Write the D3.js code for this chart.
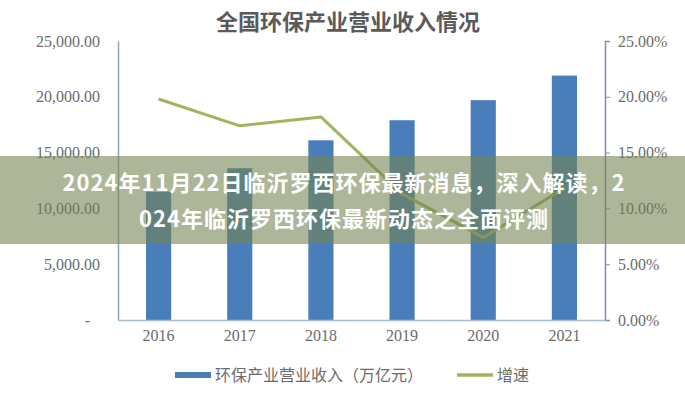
<!DOCTYPE html>
<html><head><meta charset="utf-8">
<script src="https://cdn.jsdelivr.net/npm/d3@7/dist/d3.min.js"></script>
<style>
html,body{margin:0;padding:0;background:#fff;}
svg{display:block;}
</style></head>
<body><svg id="c" width="685" height="400"></svg>
<script>
const years = ["2016","2017","2018","2019","2020","2021"];
const revenue = [11500, 13600, 16100, 17900, 19700, 21900];
const growth = [19.8, 17.4, 18.2, 11.3, 7.4, 11.8];
const leftTicks = [0, 5000, 10000, 15000, 20000, 25000];
const rightTicks = [0, 5, 10, 15, 20, 25];
const title = "全国环保产业营业收入情况";
const legendBar = "环保产业营业收入（万亿元）";
const legendLine = "增速";
const bannerLines = ["2024年11月22日临沂罗西环保最新消息，深入解读，2", "024年临沂罗西环保最新动态之全面评测"];

const svg = d3.select("#c");
const L = 118, R = 605, T = 41, B = 320;
const serif = "'Liberation Serif','Times New Roman',serif";
const cjk = "'Noto Sans CJK SC','Noto Sans',sans-serif";

const x = d3.scaleBand().domain(years).range([L, R]).paddingInner(0.69).paddingOuter(0.345);
const y = d3.scaleLinear().domain([0, 25000]).range([B, T]);
const y2 = d3.scaleLinear().domain([0, 25]).range([B, T]);

svg.append("text").attr("x", 348).attr("y", 30).attr("text-anchor", "middle")
  .attr("font-family", cjk).attr("font-weight", 700).attr("font-size", 22).attr("fill", "#5a5a5a").text(title);

// bars
svg.append("g").selectAll("rect").data(years).join("rect")
  .attr("x", d => x(d)).attr("width", x.bandwidth())
  .attr("y", (d, i) => y(revenue[i])).attr("height", (d, i) => B - y(revenue[i]))
  .attr("fill", "#4a7ebb");

// left axis
const ga = svg.append("g").attr("transform", `translate(${L},0)`)
  .call(d3.axisLeft(y).tickValues(leftTicks).tickSize(0).tickPadding(18)
    .tickFormat(d => d === 0 ? "-" : d3.format(",.2f")(d)));
ga.select(".domain").attr("stroke", "#8fa2b8").attr("stroke-width", 1.5);
ga.selectAll("text").attr("font-family", serif).attr("font-size", 16).attr("fill", "#6b6b6b");
ga.selectAll("text").filter(d => d === 0).attr("dx", -10);

// right axis
const gr = svg.append("g").attr("transform", `translate(${R},0)`)
  .call(d3.axisRight(y2).tickValues(rightTicks).tickSize(5).tickPadding(8)
    .tickFormat(d => d3.format(".2f")(d) + "%"));
gr.select(".domain").attr("stroke", "#7f90a8").attr("stroke-width", 1.5);
gr.selectAll(".tick line").attr("stroke", "#7f90a8");
gr.selectAll("text").attr("font-family", serif).attr("font-size", 16).attr("fill", "#6b6b6b");

// bottom axis
const gb = svg.append("g").attr("transform", `translate(0,${B})`)
  .call(d3.axisBottom(x).tickSize(0).tickPadding(10));
gb.select(".domain").attr("stroke", "#a9bbd0").attr("stroke-width", 1.5);
gb.selectAll("text").attr("font-family", serif).attr("font-size", 16).attr("fill", "#6b6b6b");

// line
const line = d3.line().x((d, i) => x(years[i]) + x.bandwidth() / 2).y(d => y2(d));
svg.append("path").datum(growth).attr("d", line).attr("fill", "none")
  .attr("stroke", "#9fb65e").attr("stroke-width", 3).attr("stroke-linejoin", "round");

// legend
svg.append("rect").attr("x", 175).attr("y", 372).attr("width", 36).attr("height", 6).attr("fill", "#4a7ebb");
svg.append("text").attr("x", 215).attr("y", 381).attr("font-family", cjk).attr("font-size", 16).attr("fill", "#6b6b6b").text(legendBar);
svg.append("line").attr("x1", 457).attr("x2", 493).attr("y1", 375).attr("y2", 375).attr("stroke", "#9fb65e").attr("stroke-width", 3.5);
svg.append("text").attr("x", 497).attr("y", 381).attr("font-family", cjk).attr("font-size", 16).attr("fill", "#6b6b6b").text(legendLine);

// banner overlay
svg.append("rect").attr("x", 0).attr("y", 156).attr("width", 685).attr("height", 88).attr("fill", "rgba(115,130,80,0.58)");
bannerLines.forEach((t, i) => {
  svg.append("text").attr("x", 344).attr("y", 191 + i * 36).attr("text-anchor", "middle")
    .attr("font-family", cjk).attr("font-weight", 700).attr("font-size", 22)
    .attr("letter-spacing", "1px").attr("fill", "#fff").text(t);
});
</script></body></html>
